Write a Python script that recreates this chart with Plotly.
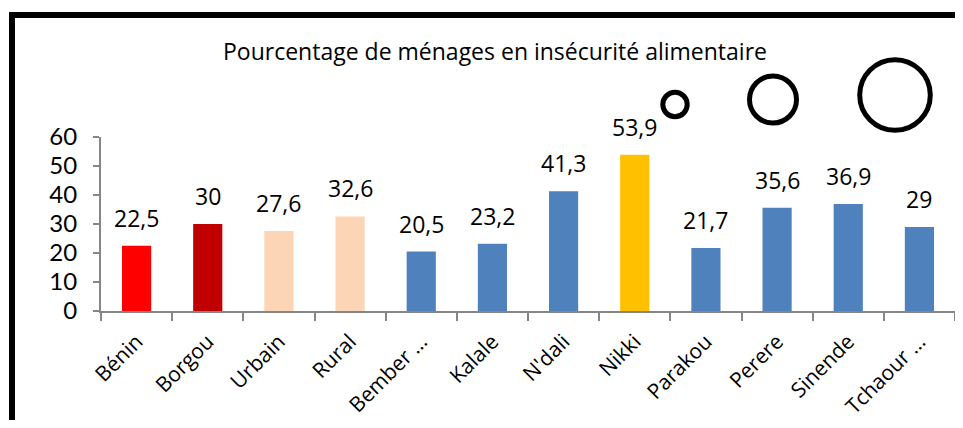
import plotly.graph_objects as go

categories = ["Bénin", "Borgou", "Urbain", "Rural", "Bember …", "Kalale",
              "N'dali", "Nikki", "Parakou", "Perere", "Sinende", "Tchaour …"]
values = [22.5, 30, 27.6, 32.6, 20.5, 23.2, 41.3, 53.9, 21.7, 35.6, 36.9, 29]
value_labels = ["22,5", "30", "27,6", "32,6", "20,5", "23,2", "41,3", "53,9",
                "21,7", "35,6", "36,9", "29"]
bar_colors = ["#FF0000", "#C00000", "#FBD5B5", "#FBD5B5", "#4F81BD", "#4F81BD",
              "#4F81BD", "#FFC000", "#4F81BD", "#4F81BD", "#4F81BD", "#4F81BD"]
y_ticks = [0, 10, 20, 30, 40, 50, 60]

# page has an 8px body margin; size the figure so it fits the 963x428 window
OFF = 8
W, H = 963 - 2 * OFF, 428 - 2 * OFF
# plot area in page pixels: x 101..955, y 137..311
L, T = 101 - OFF, 137 - OFF
R = W - (955 - OFF)
B = H - (311 - OFF)
PW, PH = W - L - R, H - T - B

def px(x):  # page x -> paper
    return (x - OFF - L) / PW

def py(y):  # page y -> paper
    return (H - B - (y - OFF)) / PH

FONT = "Open Sans"

fig = go.Figure()
fig.add_trace(go.Bar(
    x=categories, y=values, marker_color=bar_colors, marker_line_width=0,
    hoverinfo="skip",
))

for c, v, t in zip(categories, values, value_labels):
    fig.add_annotation(x=c, y=v, text=t, showarrow=False, yanchor="bottom",
                       yshift=10, font=dict(family=FONT, size=23, color="black"))

shapes = []
# frame
shapes.append(dict(type="line", xref="paper", yref="paper", x0=px(12), x1=px(1000),
                   y0=py(15), y1=py(15), line=dict(color="black", width=6)))
shapes.append(dict(type="line", xref="paper", yref="paper", x0=px(12), x1=px(12),
                   y0=py(12), y1=py(470), line=dict(color="black", width=6)))
# decorative circles
for cx, cy, r in [(675, 104.5, 12.2), (773, 99.5, 23.5), (895, 95, 35.3)]:
    shapes.append(dict(type="circle", xref="paper", yref="paper",
                       x0=px(cx - r), x1=px(cx + r), y0=py(cy + r), y1=py(cy - r),
                       line=dict(color="black", width=5)))

fig.update_layout(
    width=W, height=H,
    margin=dict(l=L, r=R, t=T, b=B, pad=0, autoexpand=False),
    paper_bgcolor="white", plot_bgcolor="white",
    showlegend=False,
    bargap=0.59,
    shapes=shapes,
    title=dict(text="Pourcentage de ménages en insécurité alimentaire",
               x=(495 - OFF) / W, xanchor="center", y=1 - (52 - OFF) / H, yanchor="middle",
               font=dict(family=FONT, size=23, color="black")),
    font=dict(family=FONT, color="black"),
)
fig.update_xaxes(
    showline=True, linecolor="#868686", linewidth=2, automargin=False,
    ticks="outside", tickson="boundaries", ticklen=8, tickcolor="#868686", tickwidth=2,
    tickangle=-45, tickfont=dict(family=FONT, size=21, color="black"),
    showgrid=False, ticklabelstandoff=8,
)
fig.update_yaxes(
    range=[0, 60], tickvals=y_ticks, showline=True, linecolor="#868686", linewidth=2,
    ticks="outside", ticklen=6, tickcolor="#868686", tickwidth=2, automargin=False,
    tickfont=dict(family="Lato", size=24, color="black"), showgrid=False,
    zeroline=False, ticklabelstandoff=11,
)

fig.write_html("out.html")
